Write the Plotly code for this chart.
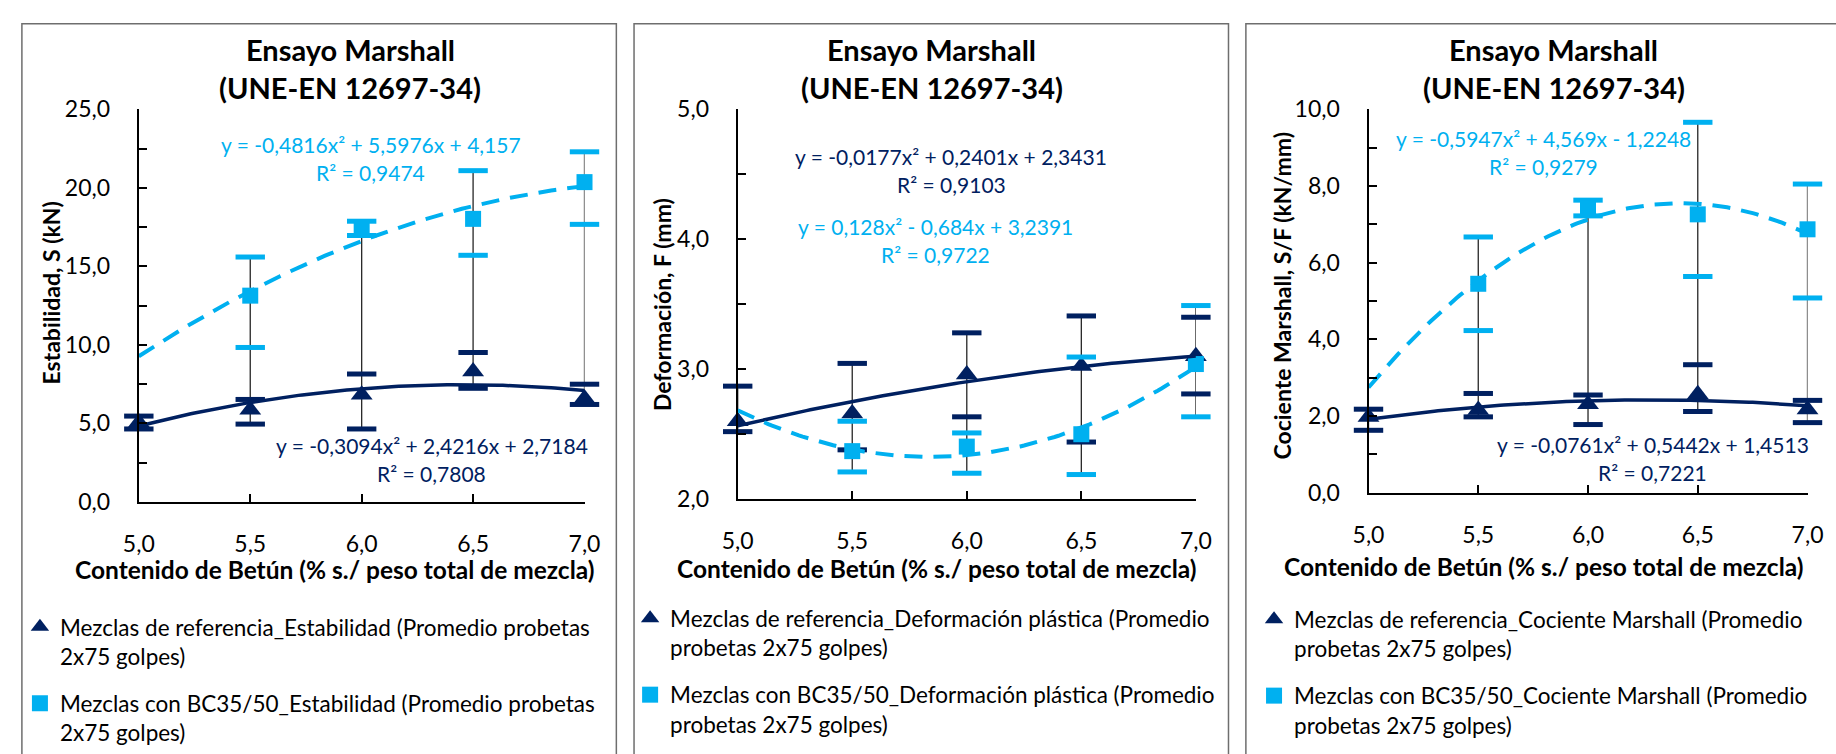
import numpy as np
import plotly.graph_objects as go

W, H = 1836, 754
FONT = "Lato"
DARK = "#002060"
LIGHT = "#00B0F0"
VLINE = "#262626"

# ---------------- data ----------------
x_cat = [5.0, 5.5, 6.0, 6.5, 7.0]
x_ticklabels = ["5,0", "5,5", "6,0", "6,5", "7,0"]

# Panel 1 - Estabilidad (kN)
est_ref = [5.05, 5.86, 6.82, 8.30, 6.58]
est_ref_hi = [5.46, 6.52, 8.14, 9.51, 7.49]
est_ref_lo = [4.64, 4.95, 4.64, 7.23, 6.20]
est_bc = [None, 13.13, 17.41, 18.02, 20.36]
est_bc_hi = [None, 15.59, 17.87, 21.09, 22.29]
est_bc_lo = [None, 9.83, 16.96, 15.70, 17.67]
est_ref_poly = [-0.3094, 2.4216, 2.7184]
est_bc_poly = [-0.4816, 5.5976, 4.157]
est_ref_eq = ["y = -0,3094x² + 2,4216x + 2,7184", "R² = 0,7808"]
est_bc_eq = ["y = -0,4816x² + 5,5976x + 4,157", "R² = 0,9474"]

# Panel 2 - Deformación (mm)
def_ref = [2.60, 2.66, 2.96, 3.025, 3.10]
def_ref_hi = [2.87, 3.045, 3.28, 3.41, 3.40]
def_ref_lo = [2.52, 2.38, 2.634, 2.44, 2.81]
def_bc = [None, 2.37, 2.405, 2.50, 3.04]
def_bc_hi = [None, 2.60, 2.51, 3.094, 3.49]
def_bc_lo = [None, 2.21, 2.20, 2.19, 2.634]
def_ref_poly = [-0.0177, 0.2401, 2.3431]
def_bc_poly = [0.128, -0.684, 3.2391]
def_ref_eq = ["y = -0,0177x² + 0,2401x + 2,3431", "R² = 0,9103"]
def_bc_eq = ["y = 0,128x² - 0,684x + 3,2391", "R² = 0,9722"]

# Panel 3 - Cociente Marshall (kN/mm)
coc_ref = [1.975, 2.16, 2.31, 2.57, 2.17]
coc_ref_hi = [2.18, 2.59, 2.55, 3.34, 2.41]
coc_ref_lo = [1.63, 1.98, 1.78, 2.12, 1.83]
coc_bc = [None, 5.45, 7.41, 7.26, 6.87]
coc_bc_hi = [None, 6.67, 7.63, 9.66, 8.05]
coc_bc_lo = [None, 4.23, 7.22, 5.64, 5.08]
coc_ref_poly = [-0.0761, 0.5442, 1.4513]
coc_bc_poly = [-0.5947, 4.569, -1.2248]
coc_ref_eq = ["y = -0,0761x² + 0,5442x + 1,4513", "R² = 0,7221"]
coc_bc_eq = ["y = -0,5947x² + 4,569x - 1,2248", "R² = 0,9279"]

title_lines = ["Ensayo Marshall", "(UNE-EN 12697-34)"]
x_title = "Contenido de Betún (% s./ peso total de mezcla)"
y_titles = ["Estabilidad, S (kN)", "Deformación, F (mm)", "Cociente Marshall, S/F (kN/mm)"]
legend_names = [
    ["Mezclas de referencia_Estabilidad (Promedio probetas<br>2x75 golpes)",
     "Mezclas con BC35/50_Estabilidad (Promedio probetas<br>2x75 golpes)"],
    ["Mezclas de referencia_Deformación plástica (Promedio<br>probetas 2x75 golpes)",
     "Mezclas con BC35/50_Deformación plástica (Promedio<br>probetas 2x75 golpes)"],
    ["Mezclas de referencia_Cociente Marshall (Promedio<br>probetas 2x75 golpes)",
     "Mezclas con BC35/50_Cociente Marshall (Promedio<br>probetas 2x75 golpes)"],
]

# ---------------- layout geometry (pixels) ----------------
def px(x):
    return x / W

def py(y):
    return 1 - y / H

panels = [
    dict(dom_x=(125, 578.6), dom_y=(507.7, 98.3), yr=(0, 25), dt=5, mdt=2.5,
         ref=(est_ref, est_ref_hi, est_ref_lo, est_ref_poly, est_ref_eq),
         bc=(est_bc, est_bc_hi, est_bc_lo, est_bc_poly, est_bc_eq),
         border=(6, 611), title_x=340, ytitle=(35.6, 289.5), xtitle=(324, 578),
         eq_ref=(423, 449), eq_bc=(361, 135), legend=(4, 616)),
    dict(dom_x=(734.5, 1200.8), dom_y=(505, 98.3), yr=(2, 5), dt=1, mdt=0.5,
         ref=(def_ref, def_ref_hi, def_ref_lo, def_ref_poly, def_ref_eq),
         bc=(def_bc, def_bc_hi, def_bc_lo, def_bc_poly, def_bc_eq),
         border=(629, 1234), title_x=932, ytitle=(657.5, 302.5), xtitle=(937, 577),
         eq_ref=(952, 148), eq_bc=(936, 221), legend=(625, 607)),
    dict(dom_x=(1376.5, 1823.3), dom_y=(498.3, 98.3), yr=(0, 10), dt=2, mdt=1,
         ref=(coc_ref, coc_ref_hi, coc_ref_lo, coc_ref_poly, coc_ref_eq),
         bc=(coc_bc, coc_bc_hi, coc_bc_lo, coc_bc_poly, coc_bc_eq),
         border=(1251.7, 2100), title_x=1565, ytitle=(1288, 293), xtitle=(1554.5, 575),
         eq_ref=(1666, 448.3), eq_bc=(1555, 129), legend=(1260, 608)),
]

fig = go.Figure()
annotations = []
shapes = []

for i, p in enumerate(panels):
    n = i + 1
    xa = "x" if n == 1 else f"x{n}"
    ya = "y" if n == 1 else f"y{n}"
    lg = "legend" if n == 1 else f"legend{n}"
    ref_v, ref_hi, ref_lo, ref_poly, ref_eq = p["ref"]
    bc_v, bc_hi, bc_lo, bc_poly, bc_eq = p["bc"]

    # vertical range lines (thin black) spanning all error caps at each x
    vx, vy = [], []
    for k, xv in enumerate(x_cat):
        vals = [v for v in (ref_hi[k], ref_lo[k], bc_hi[k], bc_lo[k]) if v is not None]
        vx += [xv, xv, None]
        vy += [max(vals), min(vals), None]
    fig.add_trace(go.Scatter(x=vx, y=vy, mode="lines", line=dict(color=VLINE, width=1.3),
                             xaxis=xa, yaxis=ya, showlegend=False, hoverinfo="skip",
                             cliponaxis=False))

    for vals, hi, lo, col, sym, msize, name, grp in [
        (ref_v, ref_hi, ref_lo, DARK, "triangle-up", 19, legend_names[i][0], f"g{n}a"),
        (bc_v, bc_hi, bc_lo, LIGHT, "square", 16, legend_names[i][1], f"g{n}b"),
    ]:
        cx = [xv for xv, h in zip(x_cat, hi) if h is not None] * 2
        cy = [h for h in hi if h is not None] + [l for l in lo if l is not None]
        fig.add_trace(go.Scatter(x=cx, y=cy, mode="markers",
                                 marker=dict(symbol="line-ew", size=21,
                                             line=dict(color=col, width=5)),
                                 xaxis=xa, yaxis=ya, showlegend=False, hoverinfo="skip",
                                 cliponaxis=False))
        fig.add_trace(go.Scatter(x=x_cat, y=vals, mode="markers", name=name,
                                 marker=dict(symbol=sym, size=msize, color=col),
                                 xaxis=xa, yaxis=ya, legend=lg, legendgroup=grp,
                                 cliponaxis=False))

    # polynomial trendlines (Excel line-chart index 1..5)
    t = np.linspace(1, 5, 121)
    tx = x_cat[0] + (t - 1) * (x_cat[1] - x_cat[0])
    fig.add_trace(go.Scatter(x=tx, y=np.polyval(ref_poly, t), mode="lines",
                             line=dict(color=DARK, width=3.5),
                             xaxis=xa, yaxis=ya, showlegend=False, hoverinfo="skip"))
    fig.add_trace(go.Scatter(x=tx, y=np.polyval(bc_poly, t), mode="lines",
                             line=dict(color=LIGHT, width=4, dash="18px,11px"),
                             xaxis=xa, yaxis=ya, showlegend=False, hoverinfo="skip"))

    axis_common = dict(showline=True, linecolor="black", linewidth=2.2, ticks="inside",
                       ticklen=8, tickwidth=1.5, tickcolor="black", showgrid=False,
                       zeroline=False, tickfont=dict(family=FONT, size=23, color="black"))
    xkey = "xaxis" if n == 1 else f"xaxis{n}"
    ykey = "yaxis" if n == 1 else f"yaxis{n}"
    fig.update_layout(**{
        xkey: dict(domain=[px(p["dom_x"][0]), px(p["dom_x"][1])], anchor=ya,
                   range=[x_cat[0], x_cat[-1]], tickvals=x_cat, ticktext=x_ticklabels,
                   ticklabelstandoff=20, **axis_common),
        ykey: dict(domain=[py(p["dom_y"][0]), py(p["dom_y"][1])], anchor=xa,
                   range=list(p["yr"]), dtick=p["dt"], tick0=p["yr"][0], tickformat=".1f",
                   ticklabelstandoff=22,
                   minor=dict(dtick=p["mdt"], ticks="inside", ticklen=8, tickwidth=1.5,
                              tickcolor="black", showgrid=False),
                   **axis_common),
        lg: dict(x=px(p["legend"][0]), y=py(p["legend"][1]), xanchor="left", yanchor="top",
                 bgcolor="rgba(0,0,0,0)", borderwidth=0, valign="top",
                 traceorder="grouped", tracegroupgap=15, itemsizing="trace",
                 font=dict(family=FONT, size=22.5, color="black")),
    })

    # chart-area border
    shapes.append(dict(type="rect", xref="paper", yref="paper",
                       x0=px(p["border"][0]), x1=px(p["border"][1]),
                       y0=-0.2, y1=py(9), line=dict(color="#6e6e6e", width=1.5),
                       fillcolor="rgba(0,0,0,0)", layer="below"))

    # titles
    for line, yy in zip(title_lines, (36, 76)):
        annotations.append(dict(text=f"<b>{line}</b>", x=px(p["title_x"]), y=py(yy),
                                xref="paper", yref="paper", showarrow=False,
                                xanchor="center", yanchor="middle",
                                font=dict(family=FONT, size=29, color="black")))
    annotations.append(dict(text=f"<b>{y_titles[i]}</b>", x=px(p["ytitle"][0]),
                            y=py(p["ytitle"][1]), xref="paper", yref="paper",
                            showarrow=False, textangle=-90, xanchor="center",
                            yanchor="middle", font=dict(family=FONT, size=23, color="black")))
    annotations.append(dict(text=f"<b>{x_title}</b>", x=px(p["xtitle"][0]),
                            y=py(p["xtitle"][1]), xref="paper", yref="paper",
                            showarrow=False, xanchor="center", yanchor="middle",
                            font=dict(family=FONT, size=24.5, color="black")))
    for eq, pos, col in ((ref_eq, p["eq_ref"], DARK), (bc_eq, p["eq_bc"], LIGHT)):
        for j, line in enumerate(eq):
            annotations.append(dict(text=line, x=px(pos[0]), y=py(pos[1] + 29 * j),
                                    xref="paper", yref="paper", showarrow=False,
                                    xanchor="center", yanchor="middle",
                                    font=dict(family=FONT, size=21, color=col)))

fig.update_layout(width=W, height=H, margin=dict(l=0, r=0, t=0, b=0),
                  paper_bgcolor="white", plot_bgcolor="rgba(0,0,0,0)",
                  separators=",.", annotations=annotations, shapes=shapes,
                  font=dict(family=FONT, color="black"))

fig.write_html("out.html",
               post_script="document.body.style.margin='0';document.body.style.overflow='hidden';")
